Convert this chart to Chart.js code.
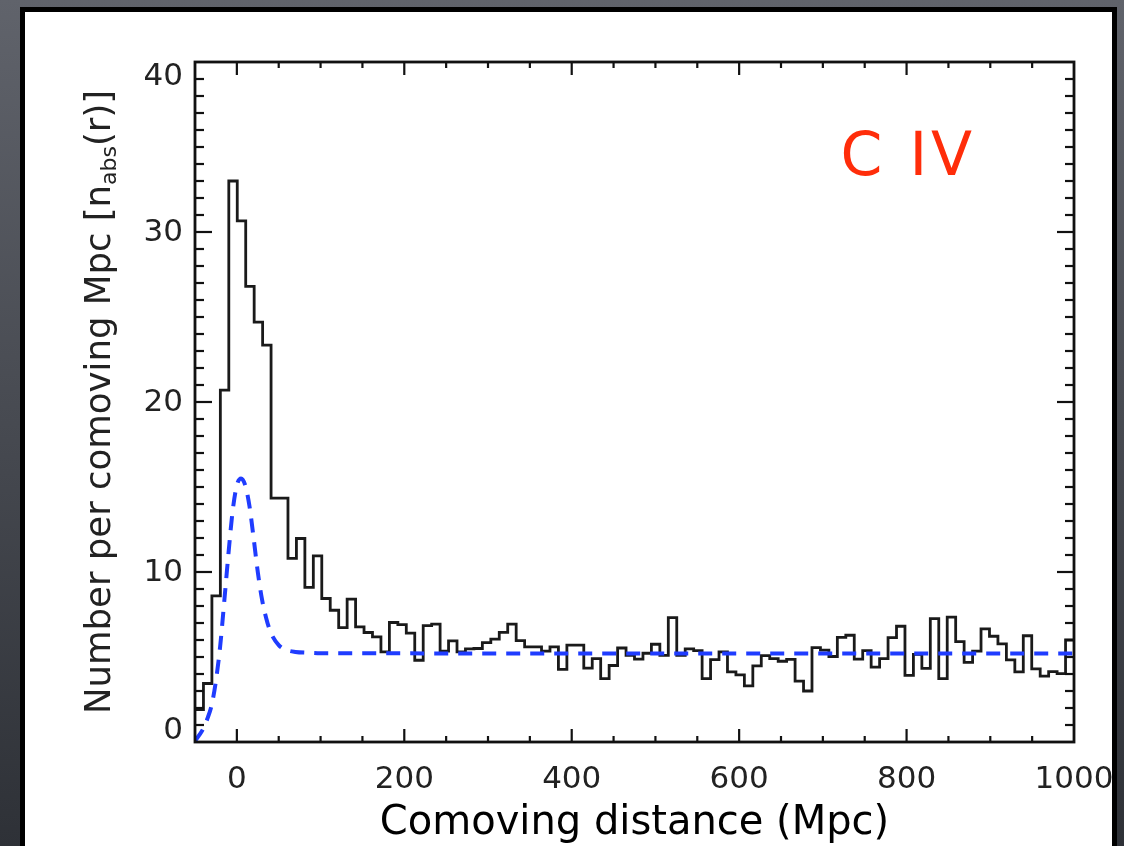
<!DOCTYPE html>
<html><head><meta charset="utf-8">
<script src="https://cdn.jsdelivr.net/npm/chart.js@4/dist/chart.umd.min.js"></script>
<style>
html,body{margin:0;padding:0;width:1124px;height:846px;overflow:hidden;background:linear-gradient(#60636b,#2e3137);}
#panel{position:absolute;left:20px;top:7px;width:1097px;height:880px;background:#fff;border:5px solid #000;box-sizing:border-box;}
#wrap{position:absolute;left:0;top:0;width:1124px;height:846px;}
</style></head>
<body>
<div id="panel"></div>
<div id="wrap"><canvas id="c" width="1124" height="846"></canvas></div>
<script>
// ---- data ----
const binStart = -50;            // Mpc, left edge of first bin
const binWidth = 1050 / 104;     // Mpc per bin
const counts = [
  1.9, 3.44, 8.6, 20.7, 33.0, 30.65, 26.8, 24.7, 23.35, 14.35,
  14.35, 10.8, 11.97, 9.09, 10.95, 8.44, 7.75, 6.73, 8.4, 6.77,
  6.44, 6.18, 5.30, 7.03, 6.9, 6.4, 4.81, 6.85, 6.93, 5.35,
  5.95, 5.3, 5.48, 5.5, 5.85, 6.05, 6.45, 6.93, 5.96, 5.59,
  5.6, 5.35, 5.6, 4.27, 5.7, 5.7, 4.35, 4.9, 3.73, 4.5,
  5.53, 5.1, 4.87, 5.22, 5.75, 5.1, 7.32, 5.1, 5.48, 5.38,
  3.73, 4.84, 5.3, 4.12, 3.95, 3.3, 4.48, 5.08, 4.9, 4.75,
  4.86, 3.58, 3.0, 5.55, 5.4, 5.03, 6.16, 6.28, 4.87, 5.38,
  4.4, 4.9, 6.14, 6.81, 3.92, 5.15, 4.33, 7.26, 3.73, 7.35,
  5.9, 4.68, 5.35, 6.65, 6.22, 5.77, 4.83, 4.12, 6.25, 4.3,
  3.88, 4.14, 4.02, 6.0
];
const modelR = [-50, -45, -40, -35, -30, -25, -20, -15, -10, -5, 0, 5, 10, 15, 20, 25, 30, 35, 40, 50, 60, 70, 85, 100, 1000];
const modelN = [0.05, 0.4, 0.8, 1.4, 2.2, 3.6, 5.6, 8.3, 11.1, 13.6, 15.1, 15.5, 15.1, 13.9, 12.0, 10.0, 8.4, 7.3, 6.5, 5.7, 5.4, 5.3, 5.25, 5.22, 5.2];
const xTickLabels = [0, 200, 400, 600, 800, 1000];
const yTickLabels = [0, 10, 20, 30, 40];
const xMinorStep = 50;
const yMinorStep = 1;
const panelLabel = 'C IV';
const xTitle = 'Comoving distance (Mpc)';
const yTitleParts = ['Number per comoving Mpc [n', 'abs', '(r)]'];

// ---- build datasets ----
const histPts = counts.map((v, k) => ({x: binStart + k * binWidth, y: v}));
histPts.push({x: binStart + counts.length * binWidth, y: counts[counts.length - 1]});
const modelPts = modelR.map((r, i) => ({x: r, y: modelN[i]}));

const FONT = "'DejaVu Sans', sans-serif";

const decor = {
  id: 'decor',
  afterDatasetsDraw(chart) {
    const {ctx, chartArea: a, scales: {x, y}} = chart;
    ctx.save();
    ctx.strokeStyle = '#111';
    ctx.lineCap = 'butt';
    ctx.lineWidth = 2.2;
    const seg = (x1, y1, x2, y2) => { ctx.beginPath(); ctx.moveTo(x1, y1); ctx.lineTo(x2, y2); ctx.stroke(); };
    for (let v = x.min + xMinorStep; v < x.max; v += xMinorStep) {
      const px = x.getPixelForValue(v);
      const L = xTickLabels.includes(v) ? 13 : 6;
      seg(px, a.bottom, px, a.bottom - L);
      seg(px, a.top, px, a.top + L);
    }
    for (let v = y.min + yMinorStep; v < y.max; v += yMinorStep) {
      const py = y.getPixelForValue(v);
      const L = yTickLabels.includes(v) ? 17 : 9;
      seg(a.left, py, a.left + L, py);
      seg(a.right, py, a.right - L, py);
    }
    ctx.lineWidth = 2.8;
    ctx.strokeRect(a.left, a.top, a.right - a.left, a.bottom - a.top);
    ctx.restore();
  },
  afterDraw(chart) {
    const {ctx, chartArea: a, scales: {x, y}} = chart;
    ctx.save();
    ctx.font = '31px ' + FONT;
    ctx.fillStyle = '#222';
    ctx.textAlign = 'right';
    ctx.textBaseline = 'middle';
    const h = 23;
    yTickLabels.forEach(v => {
      let py = y.getPixelForValue(v);
      py = Math.min(Math.max(py, a.top + h / 2 + 2), a.bottom - h / 2 - 1);
      ctx.fillText(String(v), a.left - 12, py + 1);
    });
    const mainFont = '35.5px ' + FONT, subFont = '22px ' + FONT;
    ctx.font = mainFont; const w0 = ctx.measureText(yTitleParts[0]).width;
    ctx.font = subFont;  const w1 = ctx.measureText(yTitleParts[1]).width;
    ctx.font = mainFont; const w2 = ctx.measureText(yTitleParts[2]).width;
    const total = w0 + w1 + w2;
    ctx.translate(110, (a.top + a.bottom) / 2);
    ctx.rotate(-Math.PI / 2);
    ctx.textAlign = 'left';
    ctx.textBaseline = 'alphabetic';
    ctx.fillStyle = '#222';
    let cx = -total / 2;
    ctx.font = mainFont; ctx.fillText(yTitleParts[0], cx, 0); cx += w0;
    ctx.font = subFont;  ctx.fillText(yTitleParts[1], cx, 6); cx += w1;
    ctx.font = mainFont; ctx.fillText(yTitleParts[2], cx, 0);
    ctx.restore();
    ctx.save();
    ctx.font = '60px ' + FONT;
    ctx.letterSpacing = '4px';
    ctx.fillStyle = '#ff2d0a';
    ctx.textAlign = 'left';
    ctx.textBaseline = 'alphabetic';
    ctx.fillText(panelLabel, x.getPixelForValue(721), y.getPixelForValue(33.35));
    ctx.restore();
  }
};

new Chart(document.getElementById('c'), {
  type: 'line',
  data: {
    datasets: [
      {
        label: 'model',
        data: modelPts,
        borderColor: '#1f3cff',
        borderWidth: 4,
        borderDash: [14, 10],
        pointRadius: 0,
        cubicInterpolationMode: 'monotone',
        fill: false,
        order: 0
      },
      {
        label: 'observed',
        data: histPts,
        borderColor: '#1a1a1a',
        borderWidth: 2.8,
        stepped: 'before',
        pointRadius: 0,
        fill: false,
        order: 1
      }
    ]
  },
  options: {
    responsive: false,
    animation: false,
    events: [],
    layout: {padding: {left: 0, top: 62, right: 50, bottom: 0}},
    plugins: {legend: {display: false}, tooltip: {enabled: false}},
    scales: {
      x: {
        type: 'linear',
        min: -50, max: 1000,
        grid: {display: false, drawTicks: false},
        border: {display: false},
        afterBuildTicks: s => { s.ticks = xTickLabels.map(v => ({value: v})); },
        afterFit: s => { s.height = 104; s.paddingLeft = 0; s.paddingRight = 0; },
        ticks: {
          font: {family: FONT, size: 31},
          color: '#222',
          padding: 19,
          maxRotation: 0,
          autoSkip: false,
          callback: v => String(v)
        },
        title: {
          display: true,
          text: xTitle,
          font: {family: FONT, size: 40},
          color: '#000',
          padding: {top: 0, bottom: -2}
        }
      },
      y: {
        type: 'linear',
        min: 0, max: 40,
        grid: {display: false, drawTicks: false},
        border: {display: false},
        ticks: {display: false},
        afterFit: s => { s.width = 195; }
      }
    }
  },
  plugins: [decor]
});
</script>
</body></html>
